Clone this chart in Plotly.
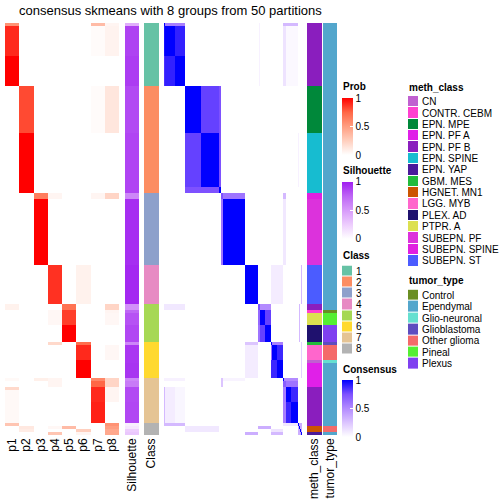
import numpy as np
import plotly.graph_objects as go

W, H = 504, 504
FONT = "Liberation Sans, Arial, Helvetica, sans-serif"

TITLE = "consensus skmeans with 8 groups from 50 partitions"
PROB_COLS = ["p1", "p2", "p3", "p4", "p5", "p6", "p7", "p8"]

# ---- sample segments (runs of samples sharing the same values), top to bottom ----
SEG_SIZES = [1, 10, 10, 16, 18, 2, 2, 22, 13, 2, 1, 4, 6, 1, 5, 1, 5, 1, 2, 1, 4, 7, 1, 1, 1, 1]
SEG_CLASS = [1, 1, 1, 2, 2, 2, 3, 3, 4, 5, 5, 5, 5, 6, 6, 6, 6, 7, 7, 7, 7, 7, 8, 8, 8, 8]
P1 = [0.55, 0.9, 1.0, 0, 0, 0, 0, 0, 0, 0.07, 0, 0, 0, 0, 0, 0, 0, 0.03, 0, 0.2, 0.03, 0.03, 0.3, 0, 0, 0]
P2 = [0, 0, 0, 0.82, 1.0, 1.0, 0, 0, 0, 0, 0, 0, 0, 0, 0, 0, 0, 0, 0, 0, 0, 0, 0, 0.12, 0.1, 0]
P3 = [0, 0, 0, 0, 0, 0, 0.65, 1.0, 0, 0, 0, 0, 0, 0, 0, 0, 0, 0.08, 0, 0, 0, 0, 0, 0, 0, 0]
P4 = [0, 0, 0, 0, 0, 0, 0.05, 0, 0.88, 0, 0.04, 0.04, 0, 0.2, 0, 0, 0, 0.05, 0.05, 0, 0, 0, 0, 0.04, 0, 0.3]
P5 = [0, 0, 0, 0, 0, 0, 0, 0, 0, 0.7, 0.85, 0.85, 1.0, 0, 0, 0, 0, 0, 0, 0, 0, 0, 0, 0.35, 0, 0]
P6 = [0, 0, 0, 0, 0, 0, 0, 0, 0.07, 0, 0, 0, 0, 0.72, 0.9, 1.0, 1.0, 0, 0, 0, 0, 0, 0, 0, 0.25, 0.05]
P7 = [0.35, 0.02, 0, 0.02, 0, 0, 0.05, 0, 0, 0, 0, 0, 0, 0, 0, 0, 0, 0.6, 0.75, 0.9, 0.9, 0.92, 0, 0, 0, 0]
P8 = [0.05, 0.06, 0, 0.13, 0, 0, 0.22, 0, 0, 0.22, 0.05, 0.04, 0, 0, 0.04, 0, 0, 0.22, 0.22, 0.05, 0.05, 0, 0.55, 0.5, 0.45, 0.45]
SILHOUETTE = [0.4, 0.88, 0.9, 0.85, 0.87, 0.87, 0.6, 0.95, 0.97, 0.55, 0.75, 0.82, 0.86,
              0.6, 0.92, 0.92, 0.93, 0.6, 0.65, 0.85, 0.85, 0.86, 0.08, 0.12, 0.25, 0.28]
METH_CLASS = ["EPN. PF B", "EPN. PF B", "EPN. PF B", "EPN. MPE", "EPN. SPINE", "EPN. SPINE",
              "SUBEPN. SPINE", "SUBEPN. PF", "SUBEPN. ST", "EPN. PF B", "CONTR. CEBM", "PTPR. A",
              "PLEX. AD", "GBM. MES", "LGG. MYB", "CN", "EPN. PF A", "EPN. PF A", "EPN. PF A",
              "EPN. PF B", "EPN. PF B", "EPN. PF B", "EPN. PF B", "HGNET. MN1", "HGNET. MN1", "EPN. YAP"]
TUMOR_TYPE = ["Ependymal", "Ependymal", "Ependymal", "Ependymal", "Ependymal", "Ependymal",
              "Ependymal", "Ependymal", "Ependymal", "Ependymal", "Control", "Pineal",
              "Plexus", "Glioblastoma", "Other glioma", "Glio-neuronal", "Ependymal", "Ependymal",
              "Ependymal", "Ependymal", "Ependymal", "Ependymal", "Ependymal", "Other glioma",
              "Other glioma", "Ependymal"]

# ---- consensus matrix: (row_first, row_last, col_first, col_last, value), sample indices ----
CONS_BLOCKS = [
    (0, 0, 0, 20, 0.55), (0, 0, 0, 0, 1.0),
    (1, 10, 0, 0, 0.95), (1, 10, 1, 10, 1.0), (1, 10, 11, 20, 0.9),
    (11, 20, 0, 0, 0.85), (11, 20, 1, 10, 0.9), (11, 20, 11, 20, 1.0),
    (0, 0, 119, 133, 0.3), (1, 20, 119, 121, 0.12), (1, 20, 122, 133, 0.03), (0, 20, 95, 95, 0.06),
    (21, 36, 21, 36, 1.0), (21, 36, 37, 54, 0.8), (37, 54, 21, 36, 0.8), (37, 54, 37, 54, 1.0),
    (21, 54, 55, 56, 0.75), (55, 56, 21, 54, 0.75), (55, 56, 55, 56, 1.0), (37, 54, 134, 134, 0.06),
    (57, 58, 57, 80, 0.6), (57, 58, 57, 58, 0.75), (59, 80, 57, 58, 0.6), (59, 80, 59, 80, 1.0),
    (57, 58, 119, 121, 0.3), (59, 80, 119, 121, 0.1),
    (81, 93, 81, 93, 1.0), (81, 93, 107, 118, 0.08), (81, 93, 137, 137, 0.3),
    (94, 95, 94, 106, 0.5), (94, 95, 94, 95, 0.75), (94, 95, 0, 20, 0.1),
    (96, 100, 94, 95, 0.65), (96, 100, 96, 100, 1.0), (96, 100, 101, 106, 0.8),
    (101, 106, 94, 95, 0.6), (101, 106, 96, 100, 0.8), (101, 106, 101, 106, 1.0),
    (94, 106, 135, 135, 0.3),
    (107, 107, 107, 118, 0.55), (107, 107, 107, 107, 1.0), (107, 107, 81, 93, 0.25),
    (108, 112, 107, 112, 1.0), (108, 112, 113, 118, 0.88), (108, 118, 107, 107, 0.6),
    (113, 118, 107, 112, 0.88), (113, 118, 113, 118, 1.0),
    (108, 118, 81, 93, 0.08), (107, 118, 137, 137, 0.2),
    (119, 119, 119, 133, 0.5), (119, 119, 119, 119, 1.0), (119, 119, 0, 20, 0.06), (119, 119, 59, 80, 0.05),
    (119, 121, 57, 58, 0.25), (120, 121, 119, 121, 0.7), (120, 121, 122, 133, 0.6),
    (122, 126, 119, 121, 0.55), (122, 126, 122, 126, 1.0), (122, 126, 127, 133, 0.88),
    (127, 133, 119, 121, 0.55), (127, 133, 122, 126, 0.88), (127, 133, 127, 133, 1.0),
    (122, 133, 0, 0, 0.3), (122, 133, 1, 10, 0.08), (122, 133, 11, 20, 0.04),
    (134, 134, 0, 20, 0.3), (134, 134, 119, 133, 0.1), (134, 137, 134, 137, 0.35), (134, 134, 134, 134, 1.0),
    (135, 135, 94, 106, 0.35), (135, 136, 21, 54, 0.1), (135, 135, 135, 135, 1.0),
    (136, 136, 107, 118, 0.12), (136, 136, 136, 136, 1.0),
    (137, 137, 81, 93, 0.35), (137, 137, 107, 118, 0.3), (137, 137, 137, 137, 1.0),
]

CLASS_LEVELS = ["1", "2", "3", "4", "5", "6", "7", "8"]
CLASS_COLORS = ["#66C2A5", "#FC8D62", "#8DA0CB", "#E78AC3", "#A6D854", "#FFD92F", "#E5C494", "#B3B3B3"]
METH_LEVELS = ["CN", "CONTR. CEBM", "EPN. MPE", "EPN. PF A", "EPN. PF B", "EPN. SPINE", "EPN. YAP",
               "GBM. MES", "HGNET. MN1", "LGG. MYB", "PLEX. AD", "PTPR. A", "SUBEPN. PF",
               "SUBEPN. SPINE", "SUBEPN. ST"]
METH_COLORS = ["#C060D0", "#FF40D0", "#00883A", "#E020E8", "#8A1EBE", "#17BCD0", "#4A1A9A",
               "#22BB3B", "#CC5500", "#FF66CC", "#1F116E", "#DCE050", "#DC32DC", "#E020E0", "#4B5CFF"]
TUMOR_LEVELS = ["Control", "Ependymal", "Glio-neuronal", "Glioblastoma", "Other glioma", "Pineal", "Plexus"]
TUMOR_COLORS = ["#6A8E23", "#53A6CC", "#66E0D0", "#5E4DBF", "#F46A6A", "#55EE33", "#7F40F0"]

PROB_SCALE = [[0, "#FFFFFF"], [0.25, "#FFCFBE"], [0.5, "#FF9E81"], [0.75, "#FF6746"], [1, "#FF0000"]]
SIL_SCALE = [[0, "#FFFFFF"], [0.25, "#EDCDFD"], [0.5, "#D79BFA"], [0.75, "#BE66F5"], [1, "#A020F0"]]
CONS_SCALE = [[0, "#FFFFFF"], [0.25, "#DCC5FF"], [0.5, "#B38BFF"], [0.75, "#7E51FF"], [1, "#0000FF"]]

# ---- build sample-level arrays ----
sizes = np.array(SEG_SIZES)
N = int(sizes.sum())
rows = np.arange(N)
prob = np.repeat(np.array([P1, P2, P3, P4, P5, P6, P7, P8], dtype=float).T, sizes, axis=0)
sil = np.repeat(np.array(SILHOUETTE, dtype=float), sizes)
cls = np.repeat(np.array(SEG_CLASS), sizes)
meth = np.repeat(np.array([METH_LEVELS.index(m) for m in METH_CLASS]), sizes)
tumor = np.repeat(np.array([TUMOR_LEVELS.index(t) for t in TUMOR_TYPE]), sizes)
cons = np.zeros((N, N))
for r0, r1, c0, c1, v in CONS_BLOCKS:
    cons[r0:r1 + 1, c0:c1 + 1] = v


def xd(a, b):
    return [a / W, b / W]


def yd(top, bottom):
    return [1 - bottom / H, 1 - top / H]


def disc(colors):
    n = len(colors)
    s = []
    for i, c in enumerate(colors):
        s += [[i / n, c], [(i + 1) / n, c]]
    return s


def cbar(top):
    return dict(x=342 / W, xanchor="left", xpad=0, y=1 - top / H, yanchor="top", ypad=0,
                len=57, lenmode="pixels", thickness=11, thicknessmode="pixels", outlinewidth=0,
                tickvals=[0, 0.5, 1], ticktext=["0", "0.5", "1"], ticks="inside", ticklen=3,
                tickcolor="white", tickfont=dict(size=10, family=FONT, color="black"))


fig = go.Figure()
fig.add_trace(go.Heatmap(z=prob, x=PROB_COLS, y=rows, colorscale=PROB_SCALE, zmin=0, zmax=1,
                         xaxis="x", yaxis="y", colorbar=cbar(98), hoverinfo="skip"))
fig.add_trace(go.Heatmap(z=sil[:, None], x=["Silhouette"], y=rows, colorscale=SIL_SCALE, zmin=0, zmax=1,
                         xaxis="x2", yaxis="y", colorbar=cbar(181.5), hoverinfo="skip"))
fig.add_trace(go.Heatmap(z=cls[:, None], x=["Class"], y=rows, colorscale=disc(CLASS_COLORS),
                         zmin=0.5, zmax=len(CLASS_COLORS) + 0.5, showscale=False,
                         xaxis="x3", yaxis="y", hoverinfo="skip"))
fig.add_trace(go.Heatmap(z=cons, x=rows, y=rows, colorscale=CONS_SCALE, zmin=0, zmax=1,
                         xaxis="x4", yaxis="y", colorbar=cbar(380), hoverinfo="skip"))
fig.add_trace(go.Heatmap(z=meth[:, None], x=["meth_class"], y=rows, colorscale=disc(METH_COLORS),
                         zmin=-0.5, zmax=len(METH_COLORS) - 0.5, showscale=False,
                         xaxis="x5", yaxis="y", hoverinfo="skip"))
fig.add_trace(go.Heatmap(z=tumor[:, None], x=["tumor_type"], y=rows, colorscale=disc(TUMOR_COLORS),
                         zmin=-0.5, zmax=len(TUMOR_COLORS) - 0.5, showscale=False,
                         xaxis="x6", yaxis="y", hoverinfo="skip"))

# legend swatches
fig.add_trace(go.Heatmap(z=[[i + 1] for i in range(len(CLASS_LEVELS))], colorscale=disc(CLASS_COLORS),
                         zmin=0.5, zmax=len(CLASS_COLORS) + 0.5, showscale=False, ygap=1,
                         xaxis="x7", yaxis="y7", hoverinfo="skip"))
fig.add_trace(go.Heatmap(z=[[i] for i in range(len(METH_LEVELS))], colorscale=disc(METH_COLORS),
                         zmin=-0.5, zmax=len(METH_COLORS) - 0.5, showscale=False, ygap=1,
                         xaxis="x8", yaxis="y8", hoverinfo="skip"))
fig.add_trace(go.Heatmap(z=[[i] for i in range(len(TUMOR_LEVELS))], colorscale=disc(TUMOR_COLORS),
                         zmin=-0.5, zmax=len(TUMOR_COLORS) - 0.5, showscale=False, ygap=1,
                         xaxis="x9", yaxis="y9", hoverinfo="skip"))

base_x = dict(showgrid=False, zeroline=False, showline=False, ticks="", fixedrange=True)
lab_x = dict(base_x, tickangle=-90, tickfont=dict(size=12, family=FONT, color="black"), type="category")
hid = dict(showgrid=False, zeroline=False, showline=False, showticklabels=False, ticks="", fixedrange=True)

layout = dict(
    width=W, height=H, margin=dict(l=0, r=0, t=0, b=0, autoexpand=False),
    paper_bgcolor="white", plot_bgcolor="white", showlegend=False,
    font=dict(family=FONT, color="black"),
    xaxis=dict(lab_x, domain=xd(5, 119), anchor="y"),
    xaxis2=dict(lab_x, domain=xd(125, 139), anchor="y"),
    xaxis3=dict(lab_x, domain=xd(144, 159), anchor="y"),
    xaxis4=dict(hid, domain=xd(164, 302), anchor="y", range=[-0.5, N - 0.5]),
    xaxis5=dict(lab_x, domain=xd(307, 322), anchor="y"),
    xaxis6=dict(lab_x, domain=xd(323, 337), anchor="y"),
    yaxis=dict(hid, domain=yd(23, 435), range=[N - 0.5, -0.5], anchor="x"),
    xaxis7=dict(hid, domain=xd(342, 352), anchor="y7"),
    yaxis7=dict(hid, domain=yd(265.5, 354.5), range=[len(CLASS_LEVELS) - 0.5, -0.5], anchor="x7"),
    xaxis8=dict(hid, domain=xd(408, 418), anchor="y8"),
    yaxis8=dict(hid, domain=yd(96, 266.5), range=[len(METH_LEVELS) - 0.5, -0.5], anchor="x8"),
    xaxis9=dict(hid, domain=xd(408, 418), anchor="y9"),
    yaxis9=dict(hid, domain=yd(289.6, 369.5), range=[len(TUMOR_LEVELS) - 0.5, -0.5], anchor="x9"),
)
fig.update_layout(**layout)

ann = []
ann.append(dict(text=TITLE, x=170 / W, y=1 - 10.5 / H, xref="paper", yref="paper", xanchor="center",
                yanchor="middle", showarrow=False, font=dict(size=13, family=FONT, color="black")))
for txt, xpx, ypx in [("Prob", 341, 86.5), ("Silhouette", 341, 170), ("Class", 341, 255),
                      ("Consensus", 341, 369), ("meth_class", 407, 87), ("tumor_type", 407, 280.5)]:
    ann.append(dict(text="<b>" + txt + "</b>", x=xpx / W, y=1 - ypx / H, xref="paper", yref="paper",
                    xanchor="left", yanchor="middle", showarrow=False,
                    font=dict(size=10, family=FONT, color="black")))


def legend_labels(levels, top, bottom, xpx):
    step = (bottom - top) / len(levels)
    for i, lv in enumerate(levels):
        yc = top + step * (i + 0.5)
        ann.append(dict(text=lv, x=xpx / W, y=1 - yc / H, xref="paper", yref="paper", xanchor="left",
                        yanchor="middle", showarrow=False, font=dict(size=10, family=FONT, color="black")))


legend_labels(CLASS_LEVELS, 265.5, 354.5, 354)
legend_labels(METH_LEVELS, 96, 266.5, 420)
legend_labels(TUMOR_LEVELS, 289.6, 369.5, 420)
fig.update_layout(annotations=ann)

fig.write_html("out.html", config={"displayModeBar": False},
               post_script="document.body.style.margin='0px';document.body.style.padding='0px';")
